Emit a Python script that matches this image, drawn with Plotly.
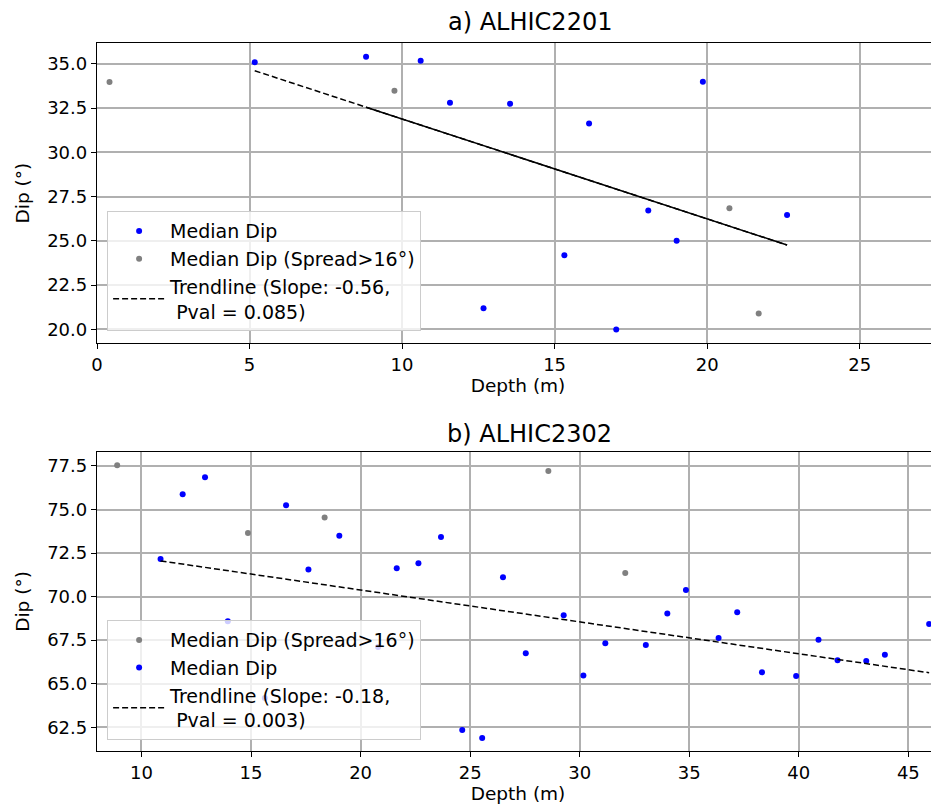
import plotly.graph_objects as go

# ---- a) ALHIC2201 ----
a_depth = [5.17, 8.82, 10.61, 11.57, 12.67, 13.54, 15.32, 16.13, 17.02, 18.07, 19.0, 19.86, 22.62]
a_dip = [35.08, 35.4, 35.17, 32.8, 21.2, 32.74, 24.18, 31.63, 20.0, 26.71, 25.01, 33.98, 26.46]
a_spread_depth = [0.41, 9.75, 20.73, 21.69]
a_spread_dip = [33.97, 33.47, 26.84, 20.9]
a_slope, a_intercept, a_pval = -0.564, 37.52, 0.085

# ---- b) ALHIC2302 ----
b_depth = [10.87, 11.88, 12.9, 13.94, 15.63, 16.6, 17.62, 19.03, 20.8, 21.65, 22.64, 23.67,
           24.64, 25.55, 26.5, 27.54, 29.27, 30.17, 31.17, 33.02, 34.0, 34.85, 36.34, 37.19,
           38.32, 39.88, 40.9, 41.77, 43.08, 43.93, 45.95]
b_dip = [72.16, 75.88, 76.85, 68.59, 64.18, 75.24, 71.56, 73.5, 67.11, 71.63, 71.91, 73.42,
         62.34, 61.88, 71.11, 66.75, 68.93, 65.48, 67.32, 67.23, 69.03, 70.38, 67.63, 69.1,
         65.66, 65.44, 67.53, 66.35, 66.31, 66.67, 68.43]
b_spread_depth = [8.89, 14.86, 18.36, 28.57, 32.08]
b_spread_dip = [77.54, 73.65, 74.54, 77.21, 71.36]
b_slope, b_intercept, b_pval = -0.183, 74.04, 0.003

FONT = "DejaVu Sans"
BLUE = "#0000ff"
GRAY = "#808080"
DASH = "6px,3px"


def trend(slope, intercept, xs):
    return [intercept + slope * x for x in xs]


fig = go.Figure()

# top panel
fig.add_trace(go.Scatter(
    x=a_depth, y=a_dip, mode="markers", name="Median Dip",
    marker=dict(color=BLUE, size=6), legend="legend",
))
fig.add_trace(go.Scatter(
    x=a_spread_depth, y=a_spread_dip, mode="markers", name="Median Dip (Spread>16°)",
    marker=dict(color=GRAY, size=6), legend="legend",
))
a_tx = [min(a_depth), max(a_depth)]
fig.add_trace(go.Scatter(
    x=a_tx, y=trend(a_slope, a_intercept, a_tx), mode="lines",
    name=f"Trendline (Slope: {a_slope:.2f},<br> Pval = {a_pval})",
    line=dict(color="black", width=1.5, dash=DASH), legend="legend",
))
# overlapping dashes render solid for most of the line in the original
a_sx = [a_depth[1], max(a_depth)]
fig.add_trace(go.Scatter(
    x=a_sx, y=trend(a_slope, a_intercept, a_sx), mode="lines",
    line=dict(color="black", width=1.5), showlegend=False, hoverinfo="skip",
))

# bottom panel
fig.add_trace(go.Scatter(
    x=b_spread_depth, y=b_spread_dip, mode="markers", name="Median Dip (Spread>16°)",
    marker=dict(color=GRAY, size=6), xaxis="x2", yaxis="y2", legend="legend2",
))
fig.add_trace(go.Scatter(
    x=b_depth, y=b_dip, mode="markers", name="Median Dip",
    marker=dict(color=BLUE, size=6), xaxis="x2", yaxis="y2", legend="legend2",
))
b_tx = [min(b_depth), max(b_depth)]
fig.add_trace(go.Scatter(
    x=b_tx, y=trend(b_slope, b_intercept, b_tx), mode="lines",
    name=f"Trendline (Slope: {b_slope:.2f},<br> Pval = {b_pval})",
    line=dict(color="black", width=1.5, dash=DASH),
    xaxis="x2", yaxis="y2", legend="legend2",
))

axis_common = dict(
    showgrid=True, gridcolor="#b0b0b0", gridwidth=1.5,
    showline=True, linecolor="black", linewidth=1.3,
    ticks="outside", ticklen=5, tickwidth=1.2, tickcolor="black",
    tickfont=dict(size=18, color="black"), zeroline=False, automargin=True,
)
legend_common = dict(
    x=0.012, xanchor="left", yanchor="bottom",
    bgcolor="rgba(255,255,255,0.8)", bordercolor="#cccccc", borderwidth=1,
    font=dict(size=19, family=FONT, color="black"),
    tracegroupgap=0, itemwidth=52,
)
xtitle = dict(text="Depth (m)", font=dict(size=18.5), standoff=3)
ytitle = dict(text="Dip (°)", font=dict(size=18.5), standoff=12)

# page body adds an 8px offset, so the figure is sized to fill the rest
fig.update_layout(
    width=931, height=802,
    margin=dict(l=89, r=0, t=35, b=59),
    paper_bgcolor="white", plot_bgcolor="white",
    font=dict(family=FONT, color="black"),
    xaxis=dict(axis_common, domain=[0, 1], range=[0, 27.6], dtick=5, mirror=True,
               anchor="y", title=xtitle),
    yaxis=dict(axis_common, domain=[0.576, 1], range=[19.22, 36.17], dtick=2.5,
               tickformat=".1f", anchor="x", title=ytitle),
    xaxis2=dict(axis_common, domain=[0, 1], range=[7.97, 46.4], dtick=5, mirror=True,
                anchor="y2", title=xtitle),
    yaxis2=dict(axis_common, domain=[0, 0.4223], range=[61.14, 78.3], dtick=2.5,
                tickformat=".1f", anchor="x2", title=ytitle),
    legend=dict(legend_common, y=0.593),
    legend2=dict(legend_common, y=0.0155),
    annotations=[
        dict(text="a) ALHIC2201", x=0.5137, y=1.03, xref="paper", yref="paper",
             xanchor="center", yanchor="middle", showarrow=False, font=dict(size=24)),
        dict(text="b) ALHIC2302", x=0.5137, y=0.4477, xref="paper", yref="paper",
             xanchor="center", yanchor="middle", showarrow=False, font=dict(size=24)),
    ],
)

fig.write_html("out.html")
